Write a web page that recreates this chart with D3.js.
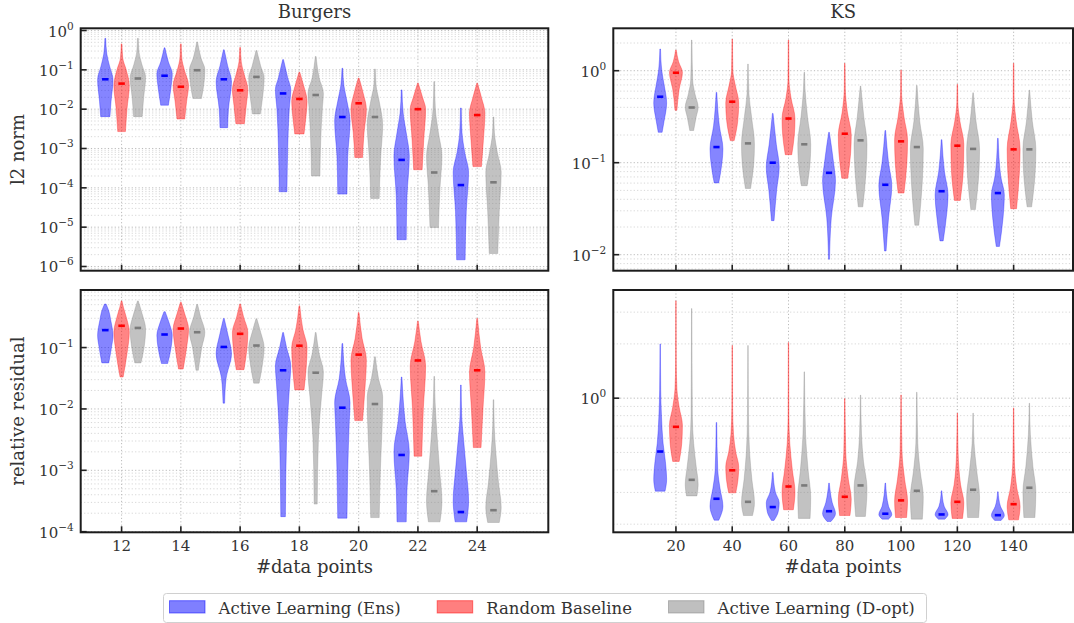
<!DOCTYPE html>
<html>
<head>
<meta charset="utf-8">
<script src="https://cdn.jsdelivr.net/npm/d3@7"></script>
<style>
body { margin: 0; background: #fff; }
svg { display: block; font-family: "DejaVu Serif", serif; }
</style>
</head>
<body>
<svg width="1074" height="623"></svg>
<script>
// x categories
const burgersPoints = [12, 14, 16, 18, 20, 22, 24];
const ksPoints = [20, 40, 60, 80, 100, 120, 140];
const methodNames = ["Active Learning (Ens)", "Random Baseline", "Active Learning (D-opt)"];

// medians (log10), one row per method: Ens, Random, D-opt
const burgersL2Median = [
	[-1.24, -1.15, -1.24, -1.6, -2.2, -3.29, -3.93],
	[-1.35, -1.43, -1.52, -1.74, -1.85, -2.0, -2.15],
	[-1.22, -1.01, -1.18, -1.64, -2.2, -3.61, -3.86]
];
const ksL2Median = [
	[-0.283, -0.83, -1.0, -1.11, -1.24, -1.31, -1.33],
	[-0.022, -0.337, -0.52, -0.685, -0.768, -0.815, -0.855],
	[-0.40, -0.79, -0.80, -0.757, -0.83, -0.85, -0.855]
];
const burgersResMedian = [
	[-0.716, -0.787, -0.99, -1.37, -1.98, -2.75, -3.68],
	[-0.645, -0.69, -0.776, -0.97, -1.115, -1.21, -1.37],
	[-0.68, -0.75, -0.967, -1.41, -1.92, -3.34, -3.65]
];
const ksResMedian = [
	[-0.296, -0.558, -0.604, -0.627, -0.641, -0.645, -0.649],
	[-0.159, -0.40, -0.49, -0.547, -0.567, -0.575, -0.588],
	[-0.453, -0.575, -0.484, -0.484, -0.514, -0.508, -0.497]
];

// violin outlines: [log10 value, relative width], bottom -> top
const burgersL2Shape = [
	[
		[[-2.19,0.6],[-1.8,0.75],[-1.25,1],[-0.9,0.55],[-0.6,0.2],[-0.2,0.05]],
		[[-1.9,0.5],[-1.5,0.8],[-1.1,1],[-0.8,0.5],[-0.44,0.05]],
		[[-2.47,0.5],[-2.0,0.6],[-1.3,1],[-0.9,0.5],[-0.49,0.05]],
		[[-4.1,0.5],[-3.0,0.6],[-2.0,0.8],[-1.5,1],[-1.2,0.6],[-0.74,0.05]],
		[[-4.16,0.6],[-3.2,0.7],[-2.3,1],[-1.8,0.6],[-1.4,0.2],[-0.96,0.05]],
		[[-5.32,0.6],[-4.2,0.7],[-3.2,1],[-2.6,0.6],[-2.1,0.2],[-1.51,0.05]],
		[[-5.83,0.55],[-4.6,0.7],[-3.6,1],[-3.1,0.5],[-2.6,0.15],[-1.97,0.05]]
	],
	[
		[[-2.57,0.5],[-2.0,0.7],[-1.4,1],[-1.0,0.6],[-0.7,0.15],[-0.34,0.05]],
		[[-2.25,0.5],[-1.8,0.75],[-1.4,1],[-1.0,0.45],[-0.7,0.12],[-0.34,0.05]],
		[[-2.37,0.55],[-1.9,0.8],[-1.5,1],[-1.1,0.5],[-0.8,0.15],[-0.43,0.05]],
		[[-2.63,0.6],[-2.2,0.85],[-1.8,1],[-1.4,0.55],[-1.06,0.05]],
		[[-3.23,0.5],[-2.6,0.7],[-2.0,1],[-1.6,0.6],[-1.21,0.05]],
		[[-3.54,0.55],[-2.8,0.75],[-2.0,1],[-1.7,0.6],[-1.34,0.05]],
		[[-3.46,0.55],[-2.8,0.8],[-2.1,1],[-1.7,0.55],[-1.34,0.05]]
	],
	[
		[[-2.19,0.55],[-1.7,0.75],[-1.2,1],[-0.85,0.5],[-0.55,0.15],[-0.2,0.05]],
		[[-1.73,0.55],[-1.4,0.85],[-1.0,1],[-0.7,0.5],[-0.29,0.05]],
		[[-2.12,0.5],[-1.7,0.8],[-1.2,1],[-0.9,0.55],[-0.51,0.05]],
		[[-3.7,0.55],[-2.8,0.65],[-2.0,0.85],[-1.6,1],[-1.2,0.45],[-0.66,0.05]],
		[[-4.27,0.55],[-3.2,0.75],[-2.4,1],[-1.8,0.55],[-1.4,0.15],[-0.98,0.05]],
		[[-5.01,0.55],[-4.0,0.75],[-3.2,1],[-2.6,0.55],[-2.0,0.15],[-1.3,0.05]],
		[[-5.67,0.55],[-4.6,0.75],[-3.6,1],[-3.1,0.5],[-2.6,0.12],[-2.2,0.05]]
	]
];
const ksL2Shape = [
	[
		[[-0.67,0.3],[-0.55,0.6],[-0.35,1],[-0.15,0.6],[0.0,0.25],[0.236,0.05]],
		[[-1.22,0.35],[-1.0,0.85],[-0.85,1],[-0.6,0.45],[-0.236,0.05]],
		[[-1.63,0.2],[-1.3,0.6],[-1.05,1],[-0.8,0.55],[-0.464,0.05]],
		[[-2.05,0.08],[-1.6,0.35],[-1.2,1],[-1.0,0.7],[-0.67,0.05]],
		[[-1.96,0.12],[-1.6,0.5],[-1.25,1],[-1.0,0.5],[-0.65,0.05]],
		[[-1.85,0.25],[-1.55,0.8],[-1.35,1],[-1.1,0.45],[-0.75,0.05]],
		[[-1.91,0.25],[-1.6,0.8],[-1.35,1],[-1.15,0.45],[-0.735,0.05]]
	],
	[
		[[-0.43,0.15],[-0.2,0.5],[-0.02,1],[0.1,0.4],[0.225,0.05]],
		[[-0.76,0.3],[-0.55,0.85],[-0.35,1],[-0.15,0.45],[0.0,0.1],[0.344,0.04]],
		[[-0.913,0.5],[-0.7,0.9],[-0.52,1],[-0.3,0.4],[-0.1,0.08],[0.333,0.04]],
		[[-1.17,0.45],[-0.9,0.9],[-0.7,1],[-0.45,0.4],[-0.2,0.08],[0.08,0.04]],
		[[-1.33,0.45],[-1.0,0.9],[-0.75,1],[-0.5,0.45],[-0.25,0.08],[0.007,0.04]],
		[[-1.41,0.45],[-1.1,0.9],[-0.8,1],[-0.55,0.4],[-0.35,0.08],[-0.149,0.04]],
		[[-1.5,0.45],[-1.1,0.9],[-0.85,1],[-0.55,0.4],[-0.3,0.07],[0.08,0.04]]
	],
	[
		[[-0.65,0.3],[-0.5,0.7],[-0.4,1],[-0.25,0.5],[-0.1,0.15],[0.333,0.04]],
		[[-1.28,0.4],[-1.0,0.9],[-0.8,1],[-0.5,0.55],[-0.25,0.15],[0.072,0.04]],
		[[-1.25,0.45],[-1.0,0.9],[-0.8,1],[-0.5,0.5],[-0.2,0.12],[-0.018,0.04]],
		[[-1.48,0.35],[-1.1,0.85],[-0.8,1],[-0.5,0.5],[-0.167,0.04]],
		[[-1.68,0.3],[-1.2,0.85],[-0.85,1],[-0.55,0.45],[-0.16,0.04]],
		[[-1.51,0.35],[-1.1,0.9],[-0.85,1],[-0.55,0.45],[-0.24,0.04]],
		[[-1.48,0.35],[-1.1,0.9],[-0.85,1],[-0.55,0.45],[-0.21,0.04]]
	]
];
const burgersResShape = [
	[
		[[-1.25,0.45],[-1.0,0.8],[-0.8,1],[-0.55,0.7],[-0.4,0.45],[-0.29,0.1]],
		[[-1.26,0.4],[-1.0,0.85],[-0.8,1],[-0.6,0.6],[-0.416,0.08]],
		[[-1.906,0.1],[-1.5,0.3],[-1.1,1],[-0.8,0.55],[-0.525,0.05]],
		[[-3.755,0.3],[-2.5,0.45],[-1.6,0.85],[-1.3,1],[-1.0,0.45],[-0.755,0.05]],
		[[-3.78,0.6],[-3.0,0.7],[-2.2,0.9],[-1.9,1],[-1.5,0.4],[-0.935,0.05]],
		[[-3.84,0.6],[-3.3,0.7],[-2.7,1],[-2.2,0.45],[-1.48,0.04]],
		[[-3.84,0.75],[-3.5,1],[-3.0,0.7],[-2.5,0.35],[-2.1,0.1],[-1.61,0.04]]
	],
	[
		[[-1.48,0.2],[-1.1,0.7],[-0.75,1],[-0.5,0.6],[-0.35,0.25],[-0.24,0.05]],
		[[-1.35,0.3],[-1.0,0.75],[-0.7,1],[-0.45,0.5],[-0.26,0.05]],
		[[-1.36,0.5],[-1.0,0.9],[-0.75,1],[-0.5,0.45],[-0.29,0.05]],
		[[-1.69,0.6],[-1.3,0.9],[-1.0,1],[-0.7,0.45],[-0.32,0.05]],
		[[-2.19,0.5],[-1.7,0.8],[-1.2,1],[-0.85,0.45],[-0.43,0.05]],
		[[-2.77,0.5],[-2.0,0.7],[-1.3,1],[-0.9,0.4],[-0.57,0.05]],
		[[-2.63,0.5],[-2.0,0.75],[-1.4,1],[-1.0,0.45],[-0.525,0.05]]
	],
	[
		[[-1.25,0.4],[-1.0,0.8],[-0.7,1],[-0.45,0.55],[-0.24,0.05]],
		[[-1.37,0.15],[-1.0,0.6],[-0.75,1],[-0.5,0.45],[-0.296,0.05]],
		[[-1.58,0.35],[-1.3,0.75],[-1.0,1],[-0.75,0.55],[-0.53,0.05]],
		[[-3.55,0.2],[-2.5,0.35],[-1.8,0.75],[-1.4,1],[-1.1,0.45],[-0.755,0.05]],
		[[-3.77,0.55],[-3.0,0.7],[-2.2,0.95],[-1.8,1],[-1.5,0.45],[-1.15,0.05]],
		[[-3.84,0.75],[-3.5,1],[-3.0,0.7],[-2.4,0.35],[-1.9,0.12],[-1.47,0.04]],
		[[-3.85,0.75],[-3.6,1],[-3.2,0.65],[-2.7,0.3],[-2.3,0.1],[-1.85,0.04]]
	]
];
const ksResShape = [
	[
		[[-0.516,0.75],[-0.45,1],[-0.35,0.8],[-0.25,0.45],[-0.1,0.2],[0.05,0.08],[0.301,0.03]],
		[[-0.677,0.35],[-0.6,1],[-0.5,0.55],[-0.4,0.2],[-0.135,0.04]],
		[[-0.678,0.2],[-0.63,0.85],[-0.58,1],[-0.52,0.4],[-0.412,0.05]],
		[[-0.684,0.3],[-0.64,1],[-0.58,0.5],[-0.471,0.04]],
		[[-0.671,0.5],[-0.645,1],[-0.6,0.5],[-0.471,0.04]],
		[[-0.671,0.5],[-0.645,1],[-0.6,0.4],[-0.514,0.04]],
		[[-0.678,0.5],[-0.65,1],[-0.6,0.4],[-0.519,0.04]]
	],
	[
		[[-0.351,0.5],[-0.25,0.9],[-0.15,1],[-0.05,0.5],[0.05,0.15],[0.2,0.05],[0.54,0.03]],
		[[-0.525,0.55],[-0.45,0.9],[-0.38,1],[-0.3,0.55],[-0.2,0.2],[-0.05,0.06],[0.292,0.03]],
		[[-0.619,0.75],[-0.52,1],[-0.4,0.6],[-0.25,0.2],[-0.1,0.06],[0.309,0.03]],
		[[-0.651,0.8],[-0.56,1],[-0.45,0.55],[-0.3,0.15],[-0.002,0.03]],
		[[-0.662,0.85],[-0.57,1],[-0.45,0.55],[-0.3,0.15],[0.018,0.03]],
		[[-0.667,0.8],[-0.58,1],[-0.48,0.5],[-0.3,0.12],[-0.083,0.03]],
		[[-0.675,0.75],[-0.6,1],[-0.5,0.5],[-0.35,0.12],[-0.054,0.03]]
	],
	[
		[[-0.542,0.8],[-0.48,1],[-0.38,0.7],[-0.25,0.3],[-0.1,0.1],[0.497,0.03]],
		[[-0.651,0.7],[-0.58,1],[-0.45,0.6],[-0.3,0.25],[-0.1,0.08],[0.292,0.03]],
		[[-0.667,0.9],[-0.55,1],[-0.4,0.6],[-0.2,0.2],[0.146,0.03]],
		[[-0.656,0.75],[-0.5,1],[-0.35,0.45],[-0.2,0.15],[0.017,0.03]],
		[[-0.671,0.85],[-0.55,1],[-0.4,0.5],[-0.25,0.15],[0.033,0.03]],
		[[-0.662,0.85],[-0.55,1],[-0.4,0.55],[-0.25,0.15],[-0.083,0.03]],
		[[-0.662,0.85],[-0.52,1],[-0.38,0.55],[-0.2,0.15],[-0.028,0.03]]
	]
];

const colors = ["blue", "red", "gray"];
const medianColors = ["#0000ff", "#ff0000", "#7a7a7a"];

const svg = d3.select('svg');

// one entry per subplot: box = [left, right, top, bottom] in px, domains in log10 for y
const panels = [
	{ xs: burgersPoints, med: burgersL2Median, shape: burgersL2Shape, box: [80.7, 548.3, 28.3, 270.7],
	  xdom: [10.62, 26.4], ydom: [-6.107, 0.056], off: 0.55, vw: 0.52, mw: 0.22, xlab: false,
	  title: "Burgers", ylabel: "l2 norm" },
	{ xs: ksPoints, med: ksL2Median, shape: ksL2Shape, box: [613.3, 1073, 28.3, 270.7],
	  xdom: [-2.26, 161.1], ydom: [-2.174, 0.461], off: 5.6, vw: 4.6, mw: 2.2, xlab: false,
	  title: "KS" },
	{ xs: burgersPoints, med: burgersResMedian, shape: burgersResShape, box: [80.7, 548.3, 290, 532.3],
	  xdom: [10.62, 26.4], ydom: [-4.01, -0.062], off: 0.55, vw: 0.52, mw: 0.22, xlab: true,
	  ylabel: "relative residual" },
	{ xs: ksPoints, med: ksResMedian, shape: ksResShape, box: [613.3, 1073, 290, 532.3],
	  xdom: [-2.26, 161.1], ydom: [-0.744, 0.6], off: 5.6, vw: 4.6, mw: 2.2, xlab: true }
];

function drawPanel(p) {
	const [l, r, t, b] = p.box;
	const x = d3.scaleLinear().domain(p.xdom).range([l, r]);
	const y = d3.scaleLog().domain(p.ydom.map(v => Math.pow(10, v))).range([b, t]);
	const g = svg.append('g');

	// grille
	const yt = y.ticks();
	const isMajor = v => Math.abs(Math.log10(v) - Math.round(Math.log10(v))) < 1e-9;
	g.selectAll('line.ygrid').data(yt).enter().append('line')
		.attr('x1', l).attr('x2', r)
		.attr('y1', d => y(d)).attr('y2', d => y(d))
		.style('stroke', d => isMajor(d) ? '#b3b3b3' : '#d2d2d2')
		.style('stroke-width', 0.9)
		.style('stroke-dasharray', '1.2,2.2');
	g.selectAll('line.xgrid').data(p.xs).enter().append('line')
		.attr('x1', d => x(d)).attr('x2', d => x(d))
		.attr('y1', t).attr('y2', b)
		.style('stroke', '#b3b3b3')
		.style('stroke-width', 0.9)
		.style('stroke-dasharray', '1.2,2.2');

	// violons
	const half = (x(p.vw) - x(0)) / 2;
	const mhalf = (x(p.mw) - x(0)) / 2;
	for (let m = 0; m < 3; m++) {
		p.xs.forEach((n, i) => {
			const cx = x(n + (m - 1) * p.off);
			const area = d3.area()
				.curve(d3.curveMonotoneY)
				.y(d => y(Math.pow(10, d[0])))
				.x0(d => cx - d[1] * half)
				.x1(d => cx + d[1] * half);
			g.append('path')
				.attr('d', area(p.shape[m][i]))
				.style('fill', colors[m])
				.style('fill-opacity', 0.48)
				.style('stroke', colors[m])
				.style('stroke-opacity', 0.3)
				.style('stroke-width', 1);
		});
	}
	for (let m = 0; m < 3; m++) {
		p.xs.forEach((n, i) => {
			const cx = x(n + (m - 1) * p.off);
			const my = y(Math.pow(10, p.med[m][i]));
			g.append('line')
				.attr('x1', cx - mhalf).attr('x2', cx + mhalf)
				.attr('y1', my).attr('y2', my)
				.style('stroke', medianColors[m])
				.style('stroke-width', 2.6);
		});
	}

	// ticks (vers l'intérieur)
	const majors = yt.filter(isMajor);
	g.selectAll('line.ytick').data(majors).enter().append('line')
		.attr('x1', l).attr('x2', l + 6)
		.attr('y1', d => y(d)).attr('y2', d => y(d))
		.style('stroke', '#222').style('stroke-width', 1.6);
	g.selectAll('line.xtick').data(p.xs).enter().append('line')
		.attr('x1', d => x(d)).attr('x2', d => x(d))
		.attr('y1', b).attr('y2', b - 6)
		.style('stroke', '#222').style('stroke-width', 1.6);

	// labels des ticks y : 10^k
	majors.forEach(v => {
		const k = Math.round(Math.log10(v));
		const txt = g.append('text')
			.attr('x', l - 7)
			.attr('y', y(v) + 6)
			.attr('text-anchor', 'end')
			.style('font-size', '15px')
			.style('fill', '#333');
		txt.append('tspan').text('10');
		txt.append('tspan')
			.attr('dy', -7)
			.style('font-size', '10.5px')
			.text(k < 0 ? '\u2212' + (-k) : String(k));
	});

	if (p.xlab) {
		g.selectAll('text.xl').data(p.xs).enter().append('text')
			.attr('x', d => x(d))
			.attr('y', b + 19)
			.attr('text-anchor', 'middle')
			.style('font-size', '15px')
			.style('fill', '#333')
			.text(d => d);
		g.append('text')
			.attr('x', (l + r) / 2)
			.attr('y', b + 41)
			.attr('text-anchor', 'middle')
			.style('font-size', '18px')
			.style('fill', '#333')
			.text('#data points');
	}
	if (p.title) {
		g.append('text')
			.attr('x', (l + r) / 2)
			.attr('y', t - 10)
			.attr('text-anchor', 'middle')
			.style('font-size', '18px')
			.style('fill', '#333')
			.text(p.title);
	}
	if (p.ylabel) {
		g.append('text')
			.attr('transform', `translate(24, ${(t + b) / 2}) rotate(-90)`)
			.attr('text-anchor', 'middle')
			.style('font-size', '18px')
			.style('fill', '#333')
			.text(p.ylabel);
	}

	// cadre
	g.append('rect')
		.attr('x', l).attr('y', t)
		.attr('width', r - l).attr('height', b - t)
		.style('fill', 'none')
		.style('stroke', '#1c1c1c')
		.style('stroke-width', 2);
}

panels.forEach(drawPanel);

// légende
const leg = svg.append('g');
leg.append('rect')
	.attr('x', 163.5).attr('y', 593.5)
	.attr('width', 763).attr('height', 29)
	.attr('rx', 3)
	.style('fill', 'white')
	.style('stroke', '#d0d0d0');
let lx = 169.5;
methodNames.forEach((name, i) => {
	leg.append('rect')
		.attr('x', lx).attr('y', 600.7)
		.attr('width', 35.5).attr('height', 12.3)
		.style('fill', colors[i])
		.style('fill-opacity', 0.5)
		.style('stroke', colors[i])
		.style('stroke-opacity', 0.5);
	const t = leg.append('text')
		.attr('x', lx + 49)
		.attr('y', 613.5)
		.style('font-size', '16.5px')
		.style('fill', '#333')
		.text(name);
	lx = lx + 49 + t.node().getComputedTextLength() + 36.5;
});
</script>
</body>
</html>
